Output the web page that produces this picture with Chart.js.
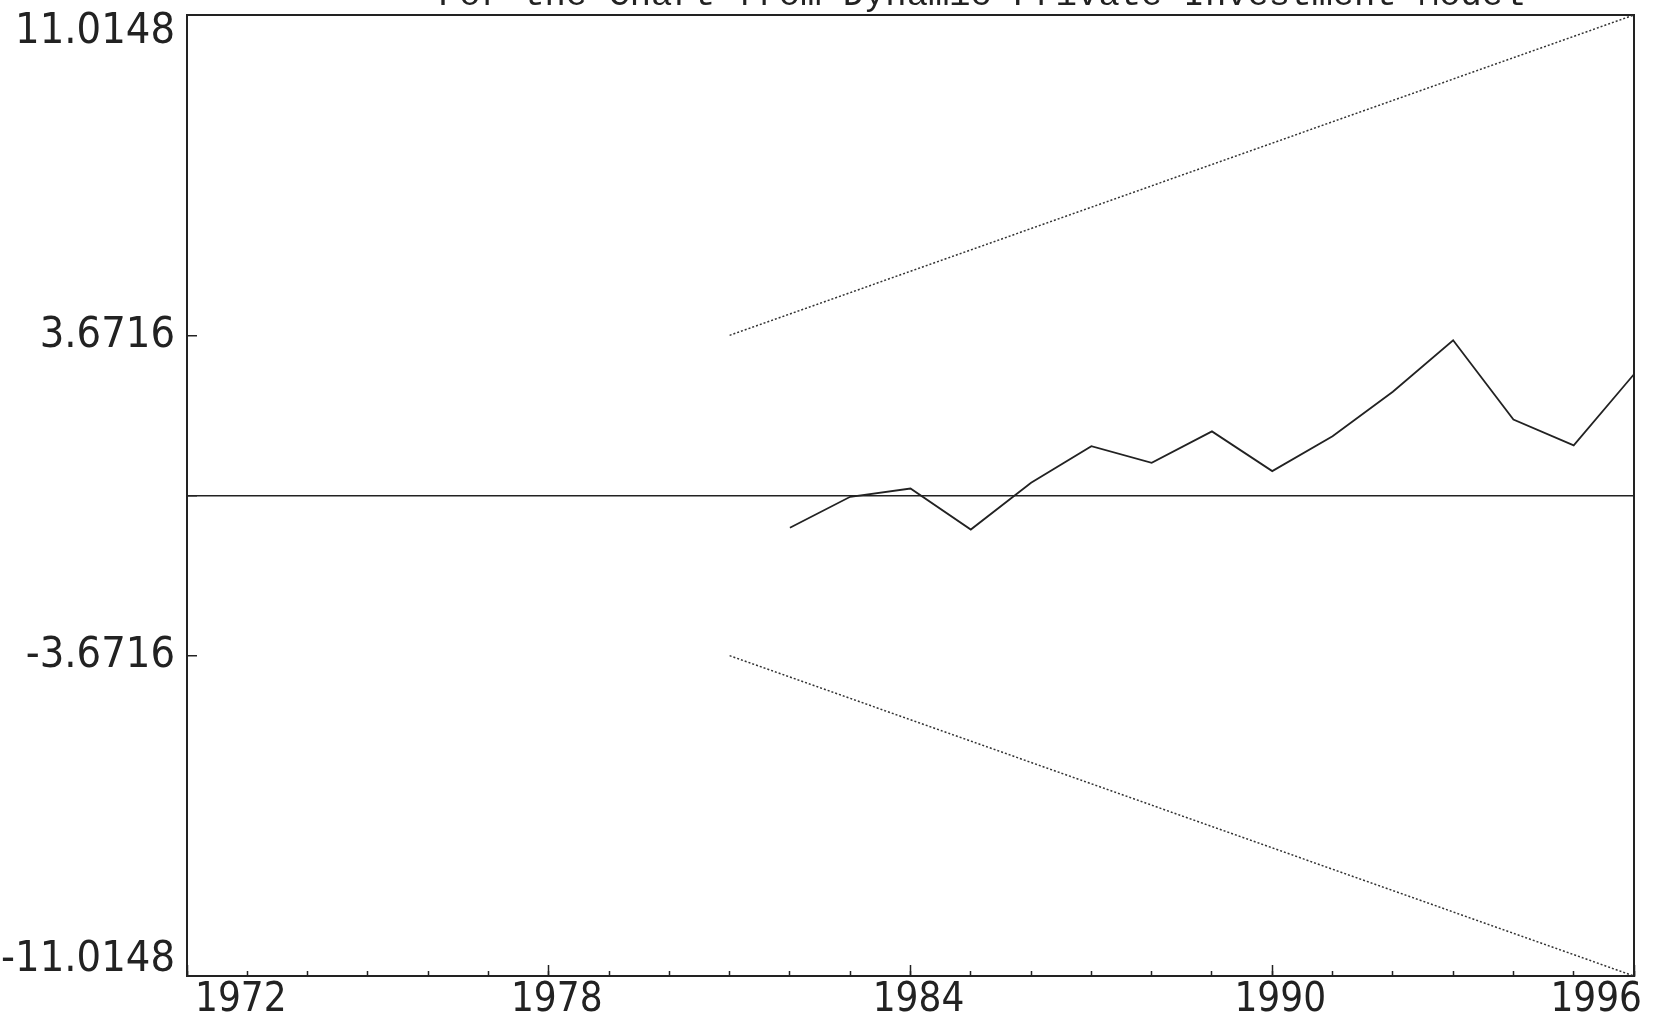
<!DOCTYPE html>
<html>
<head>
<meta charset="utf-8">
<script src="https://cdn.jsdelivr.net/npm/chart.js@4.4.1/dist/chart.umd.min.js"></script>
<style>
  html, body { margin: 0; padding: 0; background: #fff; overflow: hidden; }
  #wrap { position: relative; width: 1653px; height: 1015px; }
</style>
</head>
<body>
<div id="wrap"><canvas id="myChart"></canvas></div>
<script>
//Values
const titulo = "For the Chart from Dynamic Private Investment Model";
const anos = [1982, 1983, 1984, 1985, 1986, 1987, 1988, 1989, 1990, 1991, 1992, 1993, 1994, 1995, 1996];
const cusum = [-0.74, -0.03, 0.16, -0.78, 0.29, 1.13, 0.75, 1.47, 0.56, 1.36, 2.38, 3.56, 1.74, 1.15, 2.78];
const anosLimite = [1981, 1996]; //critical bounds are straight lines
const limiteSup = [3.6716, 11.0148];
const limiteInf = [-3.6716, -11.0148];
const ticksY = [-11.0148, -3.6716, 0, 3.6716, 11.0148];
const ticksX = [1972, 1978, 1984, 1990, 1996];
const anoMin = 1972;
const anoMax = 1996;

const tinta = "#222";
const fonteX = "'Liberation Sans Narrow', 'DejaVu Sans Condensed', sans-serif";
const fonteY = "'DejaVu Sans Condensed', 'Liberation Sans Narrow', 'DejaVu Sans', sans-serif";

const pares = (xs, ys) => xs.map((x, i) => ({ x: x, y: ys[i] }));

//Title sits half outside the top of the page, as in the scan
const tituloCortado = {
  id: "tituloCortado",
  afterDraw: (chart) => {
    const ctx = chart.ctx;
    ctx.save();
    ctx.font = "35.5px 'Liberation Mono', 'DejaVu Sans Mono', monospace";
    ctx.fillStyle = tinta;
    ctx.textBaseline = "alphabetic";
    ctx.textAlign = "left";
    ctx.fillText(titulo, 438, 5);
    ctx.restore();
  },
};

//Small axes that only draw the frame
const moldura = (pos) => ({
  type: "linear",
  position: pos,
  min: pos === "top" ? anoMin : -11.0148,
  max: pos === "top" ? anoMax : 11.0148,
  ticks: { display: false },
  grid: { drawOnChartArea: false, drawTicks: false },
  border: { display: true, color: tinta, width: 2 },
  afterFit: (s) => {
    if (pos === "top") s.height = 0;
    else s.width = 0;
    s.paddingLeft = s.paddingRight = s.paddingTop = s.paddingBottom = 0;
  },
});

const ctx = document.getElementById("myChart").getContext("2d");
const grafico = new Chart(ctx, {
  type: "line",
  data: {
    datasets: [
      {
        label: "CUSUM",
        data: pares(anos, cusum),
        borderColor: tinta,
        borderWidth: 1.8,
        pointRadius: 0,
        tension: 0,
      },
      {
        label: "5% upper bound",
        data: pares(anosLimite, limiteSup),
        borderColor: "#333",
        borderWidth: 1.5,
        borderDash: [2, 2],
        pointRadius: 0,
      },
      {
        label: "5% lower bound",
        data: pares(anosLimite, limiteInf),
        borderColor: "#333",
        borderWidth: 1.5,
        borderDash: [2, 2],
        pointRadius: 0,
      },
    ],
  },
  options: {
    responsive: true,
    maintainAspectRatio: false,
    animation: false,
    layout: { padding: { top: 15, right: 19, bottom: 0, left: 0 } },
    plugins: {
      legend: { display: false },
      title: { display: false },
      tooltip: { enabled: false },
    },
    scales: {
      x: {
        type: "linear",
        position: "bottom",
        weight: 1,
        min: anoMin,
        max: anoMax,
        afterBuildTicks: (s) => {
          s.ticks = ticksX.map((v) => ({ value: v }));
        },
        afterFit: (s) => {
          s.height = 39;
          s.paddingLeft = 0;
          s.paddingRight = 0;
        },
        grid: { drawOnChartArea: false, tickLength: -11, tickColor: tinta, tickWidth: 1.5 },
        border: { display: true, color: tinta, width: 2 },
        ticks: {
          align: "inner",
          padding: 12,
          labelOffset: 8,
          maxRotation: 0,
          autoSkip: false,
          color: tinta,
          font: { family: fonteX, size: 40 },
          callback: (v) => String(v),
        },
      },
      x2: {
        type: "linear",
        position: "bottom",
        weight: 0,
        min: anoMin,
        max: anoMax,
        ticks: { display: false, stepSize: 1 },
        grid: { drawOnChartArea: false, tickLength: -5, tickColor: tinta, tickWidth: 1.5 },
        border: { display: false },
        afterFit: (s) => {
          s.height = 0;
          s.paddingLeft = 0;
          s.paddingRight = 0;
        },
      },
      xTop: moldura("top"),
      y: {
        type: "linear",
        position: "left",
        min: -11.0148,
        max: 11.0148,
        afterBuildTicks: (s) => {
          s.ticks = ticksY.map((v) => ({ value: v }));
        },
        afterFit: (s) => {
          s.width = 187;
          s.paddingTop = 0;
          s.paddingBottom = 0;
        },
        grid: {
          color: (c) => (c.tick && c.tick.value === 0 ? tinta : "rgba(0,0,0,0)"),
          lineWidth: 1.5,
          tickLength: -10,
          tickColor: tinta,
          tickWidth: 1.5,
        },
        border: { display: true, color: tinta, width: 2 },
        ticks: {
          padding: 22,
          color: tinta,
          font: { family: fonteY, size: 43, lineHeight: 0.77 },
          callback: (v) => {
            if (v === 0) return "";
            if (v === ticksY[ticksY.length - 1]) return ["", v.toFixed(4)];
            if (v === ticksY[0]) return [v.toFixed(4), ""];
            return v.toFixed(4);
          },
        },
      },
      yRight: moldura("right"),
    },
  },
  plugins: [tituloCortado],
});
</script>
</body>
</html>
